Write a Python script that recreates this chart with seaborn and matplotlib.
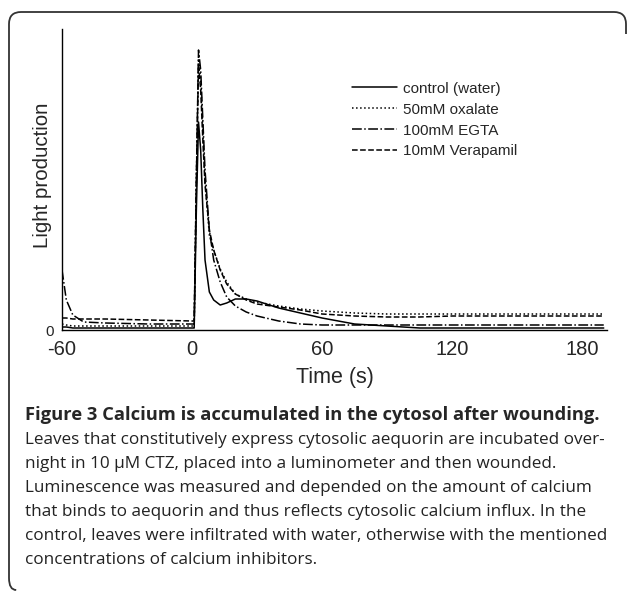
import numpy as np
import pandas as pd
import matplotlib
matplotlib.use("Agg")
import matplotlib.pyplot as plt
import seaborn as sns
from matplotlib.path import Path
from matplotlib.patches import PathPatch

# ---- data (arbitrary light units) ----
time = [-60, -58, -55, -50, -40, -20, 0, 1, 2, 3, 4, 5, 6, 8, 10, 13, 16, 20,
        25, 30, 40, 50, 60, 75, 90, 105, 120, 150, 170, 190]
control = [3, 3, 2, 2, 2, 2, 2, 2, 120, 208, 180, 120, 70, 38, 30, 25, 27, 31,
           31, 29, 22, 17, 12, 6, 4, 2, 2, 2, 2, 2]
oxalate = [6, 5, 4, 4, 4, 4, 4, 4, 150, 273, 250, 200, 150, 95, 80, 61, 48, 36,
           31, 28, 24, 21, 19, 17, 16, 16, 16, 16, 16, 16]
egta = [60, 30, 15, 8, 7, 6, 6, 6, 150, 280, 260, 210, 160, 100, 70, 48, 33, 24,
        18, 14, 9, 6, 5, 5, 5, 5, 5, 5, 5, 5]
verapamil = [12, 12, 11, 11, 11, 10, 9, 9, 150, 265, 240, 190, 145, 100, 80, 60, 46, 36,
             30, 26, 23, 20, 16, 14, 13, 13, 14, 14, 14, 14]

series_names = ["control (water)", "50mM oxalate", "100mM EGTA", "10mM Verapamil"]
series_values = [control, oxalate, egta, verapamil]
series_styles = ["-", ":", "-.", "--"]

xticks = [-60, 0, 60, 120, 180]
x_label = "Time (s)"
y_label = "Light production"

caption_title = "Figure 3 Calcium is accumulated in the cytosol after wounding."
caption_lines = [
    "Leaves that constitutively express cytosolic aequorin are incubated over-",
    "night in 10 \u00b5M CTZ, placed into a luminometer and then wounded.",
    "Luminescence was measured and depended on the amount of calcium",
    "that binds to aequorin and thus reflects cytosolic calcium influx. In the",
    "control, leaves were infiltrated with water, otherwise with the mentioned",
    "concentrations of calcium inhibitors.",
]

sns.set_theme(style="white")
plt.rcParams["font.family"] = ["Liberation Sans", "DejaVu Sans"]

W, H = 627, 594
fig = plt.figure(figsize=(W / 100, H / 100), dpi=100)
ax = fig.add_axes([62 / W, 1 - 330 / H, (607 - 62) / W, (330 - 29) / H])

for name, vals, ls in zip(series_names, series_values, series_styles):
    df = pd.DataFrame({"t": time, "v": vals})
    sns.lineplot(data=df, x="t", y="v", ax=ax, color="black", linestyle=ls,
                 linewidth=1.1, label=name)

ax.set_xlim(-60, 191.5)
ax.set_ylim(0, 301)
ax.set_xticks(xticks)
ax.set_xticklabels([str(v) for v in xticks], fontsize=14.5)
ax.set_yticks([0])
ax.set_yticklabels(["0"], fontsize=11)
ax.tick_params(axis="x", direction="inout", length=8, width=1, color="black", pad=3)
ax.tick_params(axis="y", direction="out", length=4, width=1, color="black", pad=2)
ax.set_xlabel(x_label, fontsize=15.5, labelpad=6)
ax.set_ylabel(y_label, fontsize=14.8)
ax.yaxis.set_label_coords(-0.035, 0.515)
ax.yaxis.label.set_va("center")
for s in ["top", "right"]:
    ax.spines[s].set_visible(False)
for s in ["left", "bottom"]:
    ax.spines[s].set_color("black")
    ax.spines[s].set_linewidth(1.0)

leg = ax.legend(loc="upper left", bbox_to_anchor=(0.52, 0.845), frameon=False,
                fontsize=11, handlelength=3.0, handletextpad=0.4, labelspacing=0.45,
                borderaxespad=0)

# caption
fig.text(25 / W, 1 - 420 / H, caption_title, fontsize=13.2, fontweight="bold",
         family=["Open Sans", "DejaVu Sans"], va="baseline", ha="left")
for i, line in enumerate(caption_lines):
    fig.text(25 / W, 1 - (444 + 24 * i) / H, line, fontsize=12.3,
             family=["Open Sans", "DejaVu Sans"], va="baseline", ha="left",
             color="#222222")

# rounded frame (top, left, bottom-left corner)
r = 12
L, T, R, B = 9, 12, 622, 590
pts = [(R + 4, T + 22), (R + 4, T + r), (R + 4, T), (R + 4 - r, T),
       (L + r, T), (L, T), (L, T + r), (L, B - r), (L, B), (L + r * 0.6, B)]
codes = [Path.MOVETO, Path.LINETO, Path.CURVE3, Path.CURVE3,
         Path.LINETO, Path.CURVE3, Path.CURVE3, Path.LINETO, Path.CURVE3, Path.CURVE3]
pts_fig = [(x / W, 1 - y / H) for x, y in pts]
patch = PathPatch(Path(pts_fig, codes), transform=fig.transFigure, fill=False,
                  edgecolor="#333333", linewidth=1.3)
fig.add_artist(patch)

fig.savefig("out.png", dpi=100)
